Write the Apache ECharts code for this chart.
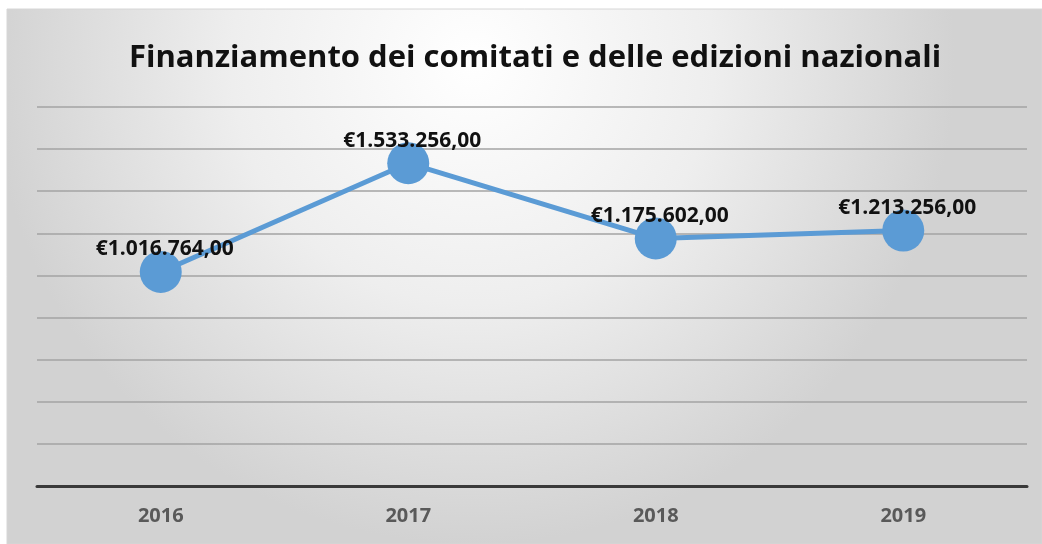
<!DOCTYPE html>
<html><head><meta charset="utf-8">
<script src="https://cdn.jsdelivr.net/npm/echarts@6/dist/echarts.min.js"></script>
<style>html,body{margin:0;padding:0;background:#fff}#c{width:1042px;height:544px}</style>
</head><body><div id="c"></div>
<script>
const titleText = "Finanziamento dei comitati e delle edizioni nazionali";
const categories = ["2016", "2017", "2018", "2019"];
const values = [1016764, 1533256, 1175602, 1213256];
const yMin = 0, yMax = 1800000, yInterval = 200000;

function fmtEuro(v) {
  const s = Math.round(v).toString().replace(/\B(?=(\d{3})+(?!\d))/g, ".");
  return "\u20ac" + s + ",00";
}

const chart = echarts.init(document.getElementById('c'));
chart.setOption({
  animation: false,
  backgroundColor: '#ffffff',
  graphic: [{
    type: 'rect', z: -10, silent: true,
    shape: { x: 7, y: 9, width: 1035, height: 535 },
    style: {
      fill: { type: 'radial', x: 0.45, y: 0.1, r: 0.9,
        colorStops: [{ offset: 0, color: '#ffffff' }, { offset: 0.5, color: '#eeeeee' }, { offset: 1, color: '#d2d2d2' }] },
      stroke: '#d6d6d6', lineWidth: 1
    }
  }],
  title: {
    text: titleText, left: 124, top: 38,
    textStyle: { fontFamily: 'Open Sans', fontWeight: 'bold', fontSize: 31, color: '#111111' }
  },
  grid: { left: 37, right: 15, top: 107, bottom: 58 },
  xAxis: {
    type: 'category', data: categories, boundaryGap: true,
    axisLine: { lineStyle: { color: '#3a3a3a', width: 3 } },
    axisTick: { show: false },
    axisLabel: { margin: 20, fontFamily: 'Open Sans', fontWeight: 'bold', fontSize: 20, color: '#595959' }
  },
  yAxis: {
    type: 'value', min: yMin, max: yMax, interval: yInterval,
    axisLabel: { show: false }, axisLine: { show: false }, axisTick: { show: false },
    splitLine: { lineStyle: { color: '#a3a3a3', width: 1.5 } }
  },
  series: [{
    type: 'line', data: values,
    symbol: 'circle', symbolSize: 42,
    lineStyle: { color: '#5b9bd5', width: 5 },
    itemStyle: { color: '#5b9bd5' },
    label: {
      show: true, position: 'top', distance: -9, offset: [4, 0],
      formatter: p => fmtEuro(p.value),
      fontFamily: 'Open Sans', fontWeight: 'bold', fontSize: 21, color: '#111111'
    }
  }]
});
</script></body></html>
